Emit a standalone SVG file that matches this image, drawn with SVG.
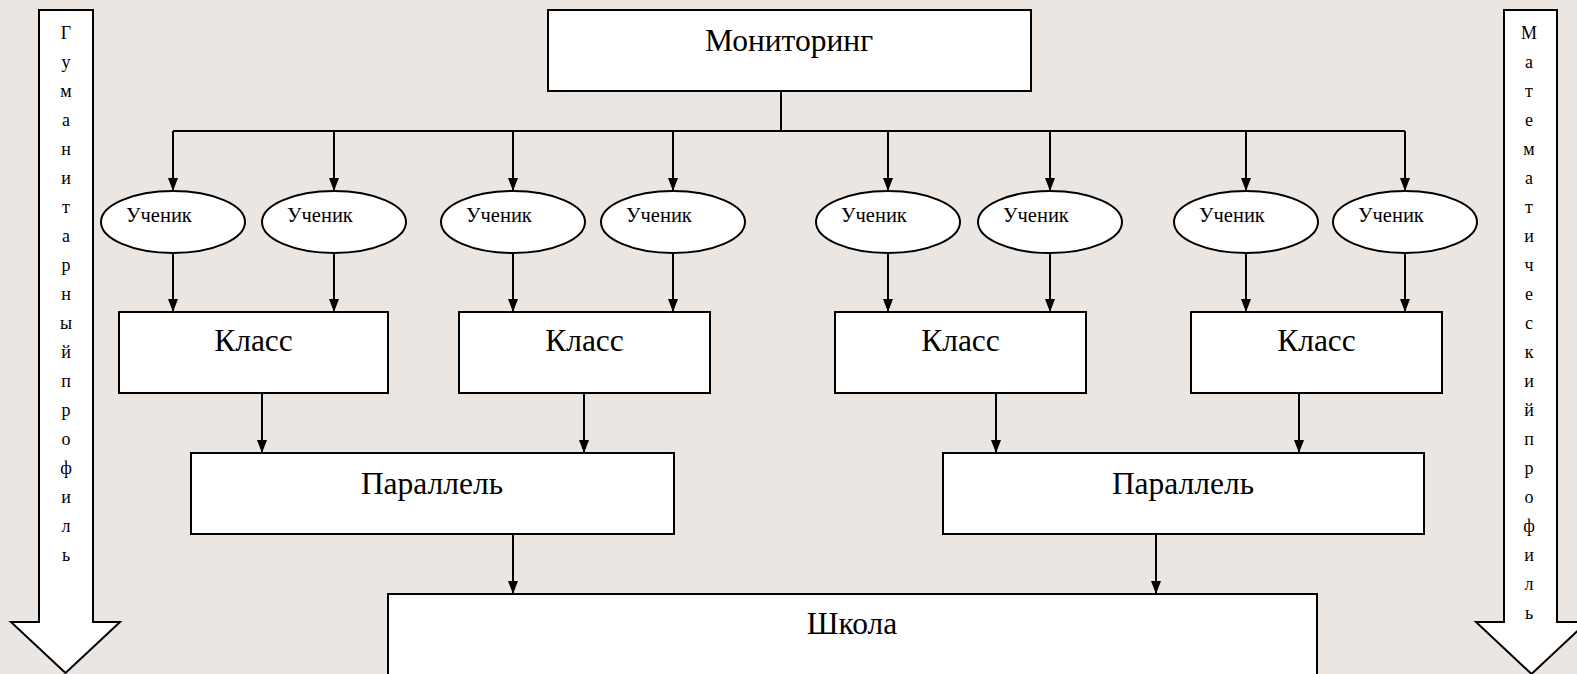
<svg xmlns="http://www.w3.org/2000/svg" width="1577" height="674" viewBox="0 0 1577 674">
<style>
.bg{fill:#ebe6e2}
.box{fill:#fff;stroke:#000;stroke-width:2}
.big{font-size:31.5px;text-anchor:middle}
.sm{font-size:20.5px}
.vt{font-size:18px;text-anchor:middle}
.ln{fill:none;stroke:#000;stroke-width:2}
.ar{fill:none;stroke:#000;stroke-width:2;marker-end:url(#ah)}
</style>
<defs>
<marker id="ah" markerUnits="userSpaceOnUse" markerWidth="10" markerHeight="14" refX="5" refY="13" orient="0" viewBox="0 0 10 14">
<path d="M0,0 L10,0 L5,13 z" fill="#000"/>
</marker>
</defs>
<rect class="bg" x="0" y="0" width="1577" height="674"/>

<g id="left-profile">
<path class="box" d="M39,10 H93 V622 H120 L65.5,673 L11,622 H39 Z"/>
<text class="vt" font-family="Liberation Serif, serif" x="66" y="39">Г</text>
<text class="vt" font-family="Liberation Serif, serif" x="66" y="68">у</text>
<text class="vt" font-family="Liberation Serif, serif" x="66" y="97">м</text>
<text class="vt" font-family="Liberation Serif, serif" x="66" y="126">а</text>
<text class="vt" font-family="Liberation Serif, serif" x="66" y="155">н</text>
<text class="vt" font-family="Liberation Serif, serif" x="66" y="184">и</text>
<text class="vt" font-family="Liberation Serif, serif" x="66" y="213">т</text>
<text class="vt" font-family="Liberation Serif, serif" x="66" y="242">а</text>
<text class="vt" font-family="Liberation Serif, serif" x="66" y="271">р</text>
<text class="vt" font-family="Liberation Serif, serif" x="66" y="300">н</text>
<text class="vt" font-family="Liberation Serif, serif" x="66" y="329">ы</text>
<text class="vt" font-family="Liberation Serif, serif" x="66" y="358">й</text>
<text class="vt" font-family="Liberation Serif, serif" x="66" y="387">п</text>
<text class="vt" font-family="Liberation Serif, serif" x="66" y="416">р</text>
<text class="vt" font-family="Liberation Serif, serif" x="66" y="445">о</text>
<text class="vt" font-family="Liberation Serif, serif" x="66" y="474">ф</text>
<text class="vt" font-family="Liberation Serif, serif" x="66" y="503">и</text>
<text class="vt" font-family="Liberation Serif, serif" x="66" y="532">л</text>
<text class="vt" font-family="Liberation Serif, serif" x="66" y="561">ь</text>
</g>

<g id="right-profile">
<path class="box" d="M1504,10 H1557 V622 H1587 L1531.5,674 L1476,622 H1504 Z"/>
<text class="vt" font-family="Liberation Serif, serif" x="1529" y="39">М</text>
<text class="vt" font-family="Liberation Serif, serif" x="1529" y="68">а</text>
<text class="vt" font-family="Liberation Serif, serif" x="1529" y="97">т</text>
<text class="vt" font-family="Liberation Serif, serif" x="1529" y="126">е</text>
<text class="vt" font-family="Liberation Serif, serif" x="1529" y="155">м</text>
<text class="vt" font-family="Liberation Serif, serif" x="1529" y="184">а</text>
<text class="vt" font-family="Liberation Serif, serif" x="1529" y="213">т</text>
<text class="vt" font-family="Liberation Serif, serif" x="1529" y="242">и</text>
<text class="vt" font-family="Liberation Serif, serif" x="1529" y="271">ч</text>
<text class="vt" font-family="Liberation Serif, serif" x="1529" y="300">е</text>
<text class="vt" font-family="Liberation Serif, serif" x="1529" y="329">с</text>
<text class="vt" font-family="Liberation Serif, serif" x="1529" y="358">к</text>
<text class="vt" font-family="Liberation Serif, serif" x="1529" y="387">и</text>
<text class="vt" font-family="Liberation Serif, serif" x="1529" y="416">й</text>
<text class="vt" font-family="Liberation Serif, serif" x="1529" y="445">п</text>
<text class="vt" font-family="Liberation Serif, serif" x="1529" y="474">р</text>
<text class="vt" font-family="Liberation Serif, serif" x="1529" y="503">о</text>
<text class="vt" font-family="Liberation Serif, serif" x="1529" y="532">ф</text>
<text class="vt" font-family="Liberation Serif, serif" x="1529" y="561">и</text>
<text class="vt" font-family="Liberation Serif, serif" x="1529" y="590">л</text>
<text class="vt" font-family="Liberation Serif, serif" x="1529" y="619">ь</text>
</g>

<g id="connectors">
<path class="ln" d="M781,91 V131 M173,131 H1405"/>
<path class="ar" d="M173,131 V191"/>
<path class="ar" d="M334,131 V191"/>
<path class="ar" d="M513,131 V191"/>
<path class="ar" d="M673,131 V191"/>
<path class="ar" d="M888,131 V191"/>
<path class="ar" d="M1050,131 V191"/>
<path class="ar" d="M1246,131 V191"/>
<path class="ar" d="M1405,131 V191"/>
<path class="ar" d="M173,253 V312"/>
<path class="ar" d="M334,253 V312"/>
<path class="ar" d="M513,253 V312"/>
<path class="ar" d="M673,253 V312"/>
<path class="ar" d="M888,253 V312"/>
<path class="ar" d="M1050,253 V312"/>
<path class="ar" d="M1246,253 V312"/>
<path class="ar" d="M1405,253 V312"/>
<path class="ar" d="M262,393 V453"/>
<path class="ar" d="M584,393 V453"/>
<path class="ar" d="M996,393 V453"/>
<path class="ar" d="M1299,393 V453"/>
<path class="ar" d="M513,534 V594"/>
<path class="ar" d="M1156,534 V594"/>
</g>

<g id="monitoring">
<rect class="box" x="548" y="10" width="483" height="81"/>
<text class="big" font-family="Liberation Serif, serif" x="789" y="51">Мониторинг</text>
</g>

<g id="student1"><ellipse class="box" cx="173" cy="222" rx="72" ry="31"/><text class="sm" font-family="Liberation Serif, serif" x="126" y="222">Ученик</text></g>
<g id="student2"><ellipse class="box" cx="334" cy="222" rx="72" ry="31"/><text class="sm" font-family="Liberation Serif, serif" x="287" y="222">Ученик</text></g>
<g id="student3"><ellipse class="box" cx="513" cy="222" rx="72" ry="31"/><text class="sm" font-family="Liberation Serif, serif" x="466" y="222">Ученик</text></g>
<g id="student4"><ellipse class="box" cx="673" cy="222" rx="72" ry="31"/><text class="sm" font-family="Liberation Serif, serif" x="626" y="222">Ученик</text></g>
<g id="student5"><ellipse class="box" cx="888" cy="222" rx="72" ry="31"/><text class="sm" font-family="Liberation Serif, serif" x="841" y="222">Ученик</text></g>
<g id="student6"><ellipse class="box" cx="1050" cy="222" rx="72" ry="31"/><text class="sm" font-family="Liberation Serif, serif" x="1003" y="222">Ученик</text></g>
<g id="student7"><ellipse class="box" cx="1246" cy="222" rx="72" ry="31"/><text class="sm" font-family="Liberation Serif, serif" x="1199" y="222">Ученик</text></g>
<g id="student8"><ellipse class="box" cx="1405" cy="222" rx="72" ry="31"/><text class="sm" font-family="Liberation Serif, serif" x="1358" y="222">Ученик</text></g>

<g id="class1"><rect class="box" x="119" y="312" width="269" height="81"/><text class="big" font-family="Liberation Serif, serif" x="253.5" y="351">Класс</text></g>
<g id="class2"><rect class="box" x="459" y="312" width="251" height="81"/><text class="big" font-family="Liberation Serif, serif" x="584.5" y="351">Класс</text></g>
<g id="class3"><rect class="box" x="835" y="312" width="251" height="81"/><text class="big" font-family="Liberation Serif, serif" x="960.5" y="351">Класс</text></g>
<g id="class4"><rect class="box" x="1191" y="312" width="251" height="81"/><text class="big" font-family="Liberation Serif, serif" x="1316.5" y="351">Класс</text></g>

<g id="parallel1"><rect class="box" x="191" y="453" width="483" height="81"/><text class="big" font-family="Liberation Serif, serif" x="432" y="494">Параллель</text></g>
<g id="parallel2"><rect class="box" x="943" y="453" width="481" height="81"/><text class="big" font-family="Liberation Serif, serif" x="1183" y="494">Параллель</text></g>

<g id="school"><rect class="box" x="388" y="594" width="929" height="100"/><text class="big" font-family="Liberation Serif, serif" x="852" y="634">Школа</text></g>
</svg>
